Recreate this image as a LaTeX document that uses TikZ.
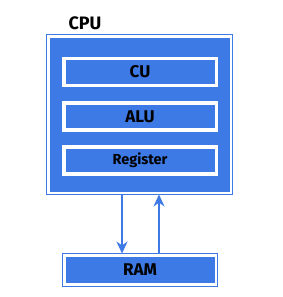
\documentclass[tikz,border=0pt]{standalone}
\usepackage{fontspec}
\setmainfont{Fira Sans}
\usetikzlibrary{arrows.meta}
\definecolor{cblue}{RGB}{62,122,230}
\begin{document}
\begin{tikzpicture}[x=1pt,y=-1pt,
  frame/.style={draw=cblue,line width=1pt,fill=white,inner sep=0pt,outer sep=0pt},
  core/.style={fill=cblue,inner sep=0pt,outer sep=0pt},
  unit/.style={draw=white,line width=3.5pt,fill=cblue,inner sep=0pt,outer sep=0pt,
    minimum width=152.5pt,minimum height=27pt,font=\bfseries\fontsize{17}{17}\selectfont},
  link/.style={draw=cblue,line width=2.6pt,-{Stealth[length=12pt,width=11pt]}}
]
\useasboundingbox (0,0) rectangle (283,297);
% CPU
\node[frame,minimum width=186pt,minimum height=160pt] (cpu) at (139.5,114.5) {};
\node[core,minimum width=180pt,minimum height=154pt] (cpuin) at (139.5,114.5) {};
\node[font=\bfseries\fontsize{18}{18}\selectfont,anchor=west] (cpulabel) at (65,23) {CPU};
% units
\node[unit] (cu) at (140,72) {CU};
\node[unit] (alu) at (140,116.5) {ALU};
\node[unit,font=\bfseries\fontsize{14.5}{14.5}\selectfont] (reg) at (140,160.5) {Register};
% RAM
\node[frame,minimum width=155pt,minimum height=33pt] (ram) at (140,270) {};
\node[core,minimum width=149pt,minimum height=26pt,font=\bfseries\fontsize{17}{17}\selectfont] (ramin) at (140,270) {RAM};
% connectors
\draw[link] (cpu.south -| 122,0) -- (ram.north -| 122,0);
\draw[link] (ram.north -| 159,0) -- (cpu.south -| 159,0);
\end{tikzpicture}
\end{document}
